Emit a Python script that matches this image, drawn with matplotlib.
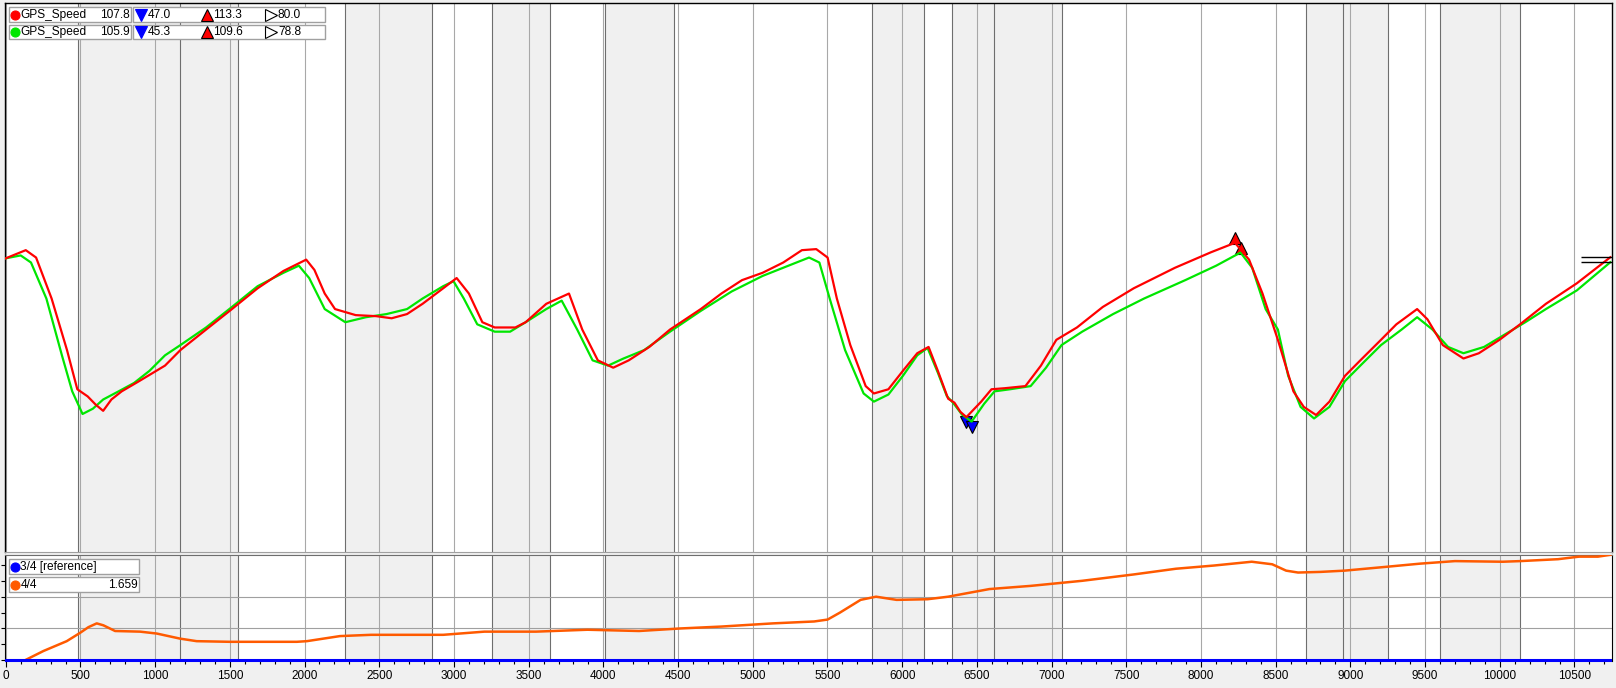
import numpy as np
import matplotlib
matplotlib.use('Agg')
import matplotlib.pyplot as plt
from matplotlib.lines import Line2D
from matplotlib.patches import Rectangle
from matplotlib.transforms import offset_copy, blended_transform_factory

plt.rcParams['font.family'] = ['Liberation Sans', 'DejaVu Sans']

# ---- values: distance (m) vs GPS speed (km/h) ----
red_dist = [0, 134, 203, 307, 410, 479, 548, 603, 652, 707, 776, 893, 1066, 1169,
            1341, 1514, 1686, 1859, 2011, 2066, 2135, 2204, 2342, 2480, 2583, 2686,
            2790, 2928, 3018, 3100, 3190, 3273, 3411, 3480, 3618, 3770, 3859, 3963,
            4066, 4170, 4308, 4446, 4652, 4790, 4928, 5066, 5204, 5329, 5425, 5501,
            5563, 5653, 5756, 5811, 5908, 6005, 6101, 6177, 6239, 6308, 6350, 6390,
            6430, 6529, 6598, 6687, 6825, 6929, 7032, 7170, 7343, 7550, 7826, 8067,
            8228, 8322, 8412, 8515, 8619, 8688, 8771, 8860, 8964, 9067, 9205, 9308,
            9447, 9516, 9619, 9757, 9860, 9998, 10136, 10309, 10516, 10740]
red_speed = [107.4, 110.5, 107.7, 92.1, 72.5, 57.6, 54.9, 51.7, 49.4, 53.7, 56.8, 60.7,
             66.6, 72.5, 80.3, 88.1, 96.0, 102.6, 106.9, 103.0, 94.0, 88.1, 85.8, 85.4,
             84.6, 86.2, 90.1, 96.0, 99.9, 94.0, 83.1, 81.1, 81.1, 83.1, 90.1, 94.0,
             80.3, 68.6, 65.8, 68.6, 73.7, 80.3, 88.1, 94.0, 99.1, 101.9, 105.8, 110.5,
             110.9, 107.7, 92.1, 74.4, 58.8, 56.0, 57.6, 64.6, 71.3, 73.7, 64.6, 54.0,
             52.5, 49.0, 47.0, 52.9, 57.6, 58.0, 58.8, 66.6, 76.4, 81.1, 88.9, 96.0,
             103.8, 109.7, 113.3, 106.9, 94.0, 76.4, 56.8, 50.9, 47.8, 52.9, 62.7, 68.6,
             76.4, 82.3, 88.1, 84.2, 74.4, 69.3, 71.3, 76.4, 82.3, 90.1, 97.9, 107.8]

green_dist = [0, 100, 169, 272, 376, 445, 514, 583, 652, 755, 859, 962, 1066, 1169,
              1341, 1514, 1686, 1859, 1962, 2031, 2135, 2273, 2411, 2549, 2686, 2790,
              2928, 2997, 3066, 3156, 3273, 3376, 3480, 3618, 3721, 3825, 3928, 4032,
              4135, 4273, 4446, 4652, 4859, 5066, 5239, 5377, 5446, 5515, 5618, 5742,
              5811, 5908, 6005, 6101, 6170, 6239, 6299, 6342, 6400, 6465, 6549, 6618,
              6722, 6860, 6963, 7067, 7205, 7412, 7619, 7895, 8102, 8265, 8343, 8433,
              8515, 8584, 8667, 8757, 8860, 8964, 9067, 9205, 9343, 9447, 9550, 9654,
              9757, 9895, 10033, 10171, 10309, 10516, 10740]
green_speed = [107.4, 108.5, 105.8, 92.1, 70.5, 56.8, 48.2, 50.2, 53.7, 56.8, 60.0,
               64.6, 70.5, 74.4, 81.1, 88.9, 96.8, 101.9, 104.6, 99.9, 88.1, 83.1, 85.0,
               86.2, 88.1, 92.1, 96.8, 98.7, 92.1, 82.3, 79.5, 79.5, 83.1, 88.1, 91.3,
               80.3, 68.6, 66.6, 69.3, 72.5, 79.5, 87.4, 94.8, 100.7, 104.6, 107.7, 105.8,
               92.1, 72.5, 56.0, 52.9, 55.6, 62.7, 70.5, 73.3, 63.9, 55.0, 52.4, 48.0,
               45.3, 52.1, 56.8, 57.6, 58.8, 65.8, 74.4, 79.5, 86.2, 92.1, 99.1, 104.6,
               109.6, 103.8, 88.1, 80.3, 62.7, 50.9, 46.5, 50.9, 60.7, 66.6, 74.4, 80.3,
               85.0, 80.3, 73.7, 71.3, 73.7, 78.4, 83.1, 88.1, 95.2, 105.9]

# time difference of lap 4/4 against reference 3/4 (s)
delta_dist = [0, 129, 252, 408, 497, 553, 609, 653, 732, 899, 1011, 1167, 1278, 1501,
              1948, 2015, 2237, 2445, 2928, 3204, 3549, 3894, 4239, 4515, 4790, 5135,
              5411, 5501, 5584, 5722, 5825, 5963, 6170, 6308, 6446, 6584, 6860, 7205,
              7550, 7833, 8086, 8340, 8477, 8570, 8650, 8800, 8962, 9240, 9467, 9700,
              10020, 10137, 10390, 10530, 10657, 10740]
delta_time = [0, 0, 0.145, 0.30, 0.43, 0.52, 0.58, 0.55, 0.46, 0.45, 0.42, 0.34, 0.30,
              0.29, 0.29, 0.30, 0.38, 0.40, 0.40, 0.45, 0.45, 0.48, 0.46, 0.50, 0.53,
              0.58, 0.61, 0.64, 0.75, 0.95, 1.00, 0.95, 0.96, 1.00, 1.06, 1.12, 1.17,
              1.25, 1.35, 1.44, 1.49, 1.55, 1.51, 1.41, 1.38, 1.39, 1.41, 1.47, 1.52,
              1.56, 1.55, 1.56, 1.59, 1.63, 1.63, 1.659]
ref_dist = [0, 10740]
ref_time = [0, 0]

sector_lines = [483, 1165, 1557, 2274, 2850, 3253, 3645, 4010, 4475, 5800, 6149,
                6335, 6616, 7073, 8706, 8952, 9254, 9603, 10137]
shaded = [(483, 1557), (2274, 2850), (3253, 3645), (4010, 4475), (5800, 6149),
          (6335, 7073), (8706, 9254), (9603, 10137)]

x_ticks = list(range(0, 10501, 500))

speed_names = ['GPS_Speed', 'GPS_Speed']
speed_now = ['107.8', '105.9']
speed_min = ['47.0', '45.3']
speed_max = ['113.3', '109.6']
speed_avg = ['80.0', '78.8']
lap_names = ['3/4 [reference]', '4/4']
lap_values = ['', '1.659']

RED = '#ff0000'
GREEN = '#00e600'
ORANGE = '#ff5a00'
BLUE = '#0000ff'
SHADE = '#f0f0f0'

W, H = 1616, 688


def fx(px):
    return px / W


def fy(py):
    return 1 - py / H


fig = plt.figure(figsize=(W / 100, H / 100), dpi=100, facecolor=SHADE)
ax_top = fig.add_axes([fx(4.7), fy(551.5), fx(1611.5) - fx(4.7), fy(3) - fy(551.5)])
ax_bot = fig.add_axes([fx(4.7), fy(661), fx(1611.5) - fx(4.7), fy(555) - fy(661)])

for ax in (ax_top, ax_bot):
    ax.set_facecolor('white')
    ax.set_xlim(-7, 10748)
    for a, b in shaded:
        ax.axvspan(a, b, color=SHADE, lw=0, zorder=0)
    for t in x_ticks:
        ax.axvline(t, color='#a8a8a8', lw=0.8, zorder=1)
    for s in sector_lines:
        ax.axvline(s, color='#6e6e6e', lw=0.8, zorder=1)

# ---- top panel: speed traces ----
ax_top.set_ylim(-4.1, 204.5)
ax_top.set_xticks([])
ax_top.set_yticks([])
for side in ('left', 'top', 'right'):
    ax_top.spines[side].set_color('black')
    ax_top.spines[side].set_linewidth(1)
ax_top.spines['bottom'].set_color('#a0a0a0')

ax_top.plot(green_dist, green_speed, color=GREEN, lw=1.6, zorder=4)
ax_top.plot(red_dist, red_speed, color=RED, lw=1.6, zorder=4)

down = offset_copy(ax_top.transData, fig=fig, y=-5, units='dots')
up = offset_copy(ax_top.transData, fig=fig, y=5, units='dots')
for dist, speed in ((red_dist, red_speed), (green_dist, green_speed)):
    i_min = int(np.argmin(speed))
    i_max = int(np.argmax(speed))
    ax_top.plot(dist[i_min], speed[i_min], marker='v', ms=9, mfc=BLUE, mec='black',
                mew=0.8, transform=down, zorder=3)
    ax_top.plot(dist[i_max], speed[i_max], marker='^', ms=9, mfc=RED, mec='black',
                mew=0.8, transform=up, zorder=3)

# cursor marks at the right edge
blend = blended_transform_factory(ax_top.transAxes, ax_top.transData)
ax_top.hlines([red_speed[-1], green_speed[-1]], 0.981, 1.0, colors='black', lw=1,
              transform=blend, zorder=5)

# ---- bottom panel: time difference ----
ax_bot.set_ylim(-0.012, 1.656)
ax_bot.set_xticks(x_ticks)
ax_bot.set_xticks(np.arange(0, 10701, 100), minor=True)
ax_bot.set_xticklabels([str(t) for t in x_ticks], fontsize=8.5)
ax_bot.set_yticks(np.arange(0, 1.6, 0.25))
ax_bot.set_yticklabels([])
ax_bot.tick_params(axis='x', which='major', direction='out', length=4, width=0.8, pad=2.5)
ax_bot.tick_params(axis='x', which='minor', direction='out', length=2.5, width=0.8)
ax_bot.tick_params(axis='y', direction='out', length=3, width=0.8)
for g in (0.5, 1.0):
    ax_bot.axhline(g, color='#a0a0a0', lw=0.8, zorder=1)
ax_bot.spines['left'].set_color('black')
ax_bot.spines['right'].set_color('black')
ax_bot.spines['top'].set_color('#6e6e6e')
ax_bot.spines['bottom'].set_visible(False)

ax_bot.plot(delta_dist, delta_time, color=ORANGE, lw=1.8, zorder=4)
ax_bot.plot(ref_dist, ref_time, color=BLUE, lw=2.2, zorder=5, clip_on=False)


# ---- legend boxes (drawn in pixel positions of the window) ----
def box(x0, y0, x1, y1):
    fig.add_artist(Rectangle((fx(x0), fy(y1)), fx(x1) - fx(x0), fy(y0) - fy(y1),
                             transform=fig.transFigure, facecolor='white',
                             edgecolor='#a0a0a0', lw=1, zorder=6))


def mark(x, y, m, face, edge, size):
    fig.add_artist(Line2D([fx(x)], [fy(y)], marker=m, ms=size, mfc=face, mec=edge,
                          mew=0.8, lw=0, transform=fig.transFigure, zorder=7))


def label(x, y, s, ha='left'):
    fig.text(fx(x), fy(y), s, ha=ha, va='center', fontsize=8.6, color='black', zorder=8)


rows = [(7.3, 21.7), (25.0, 39.3)]
colors = [RED, GREEN]
for k, (y0, y1) in enumerate(rows):
    yc = (y0 + y1) / 2 + 0.3
    box(9.3, y0, 130.7, y1)
    box(132.7, y0, 325, y1)
    mark(15, yc, 'o', colors[k], colors[k], 6.5)
    label(20.5, yc, speed_names[k])
    label(129.3, yc, speed_now[k], ha='right')
    mark(141, yc, 'v', BLUE, BLUE, 9)
    label(148, yc, speed_min[k])
    mark(206.5, yc, '^', RED, 'black', 9)
    label(213, yc, speed_max[k])
    mark(271, yc, '>', 'white', 'black', 8)
    label(278, yc, speed_avg[k])

rows = [(559.0, 573.7), (576.7, 591.7)]
colors = [BLUE, ORANGE]
for k, (y0, y1) in enumerate(rows):
    yc = (y0 + y1) / 2 + 0.3
    box(9.3, y0, 139, y1)
    mark(15, yc, 'o', colors[k], colors[k], 6.5)
    label(20.5, yc, lap_names[k])
    if lap_values[k]:
        label(137.3, yc, lap_values[k], ha='right')

fig.savefig('out.png', dpi=100, facecolor=fig.get_facecolor())
